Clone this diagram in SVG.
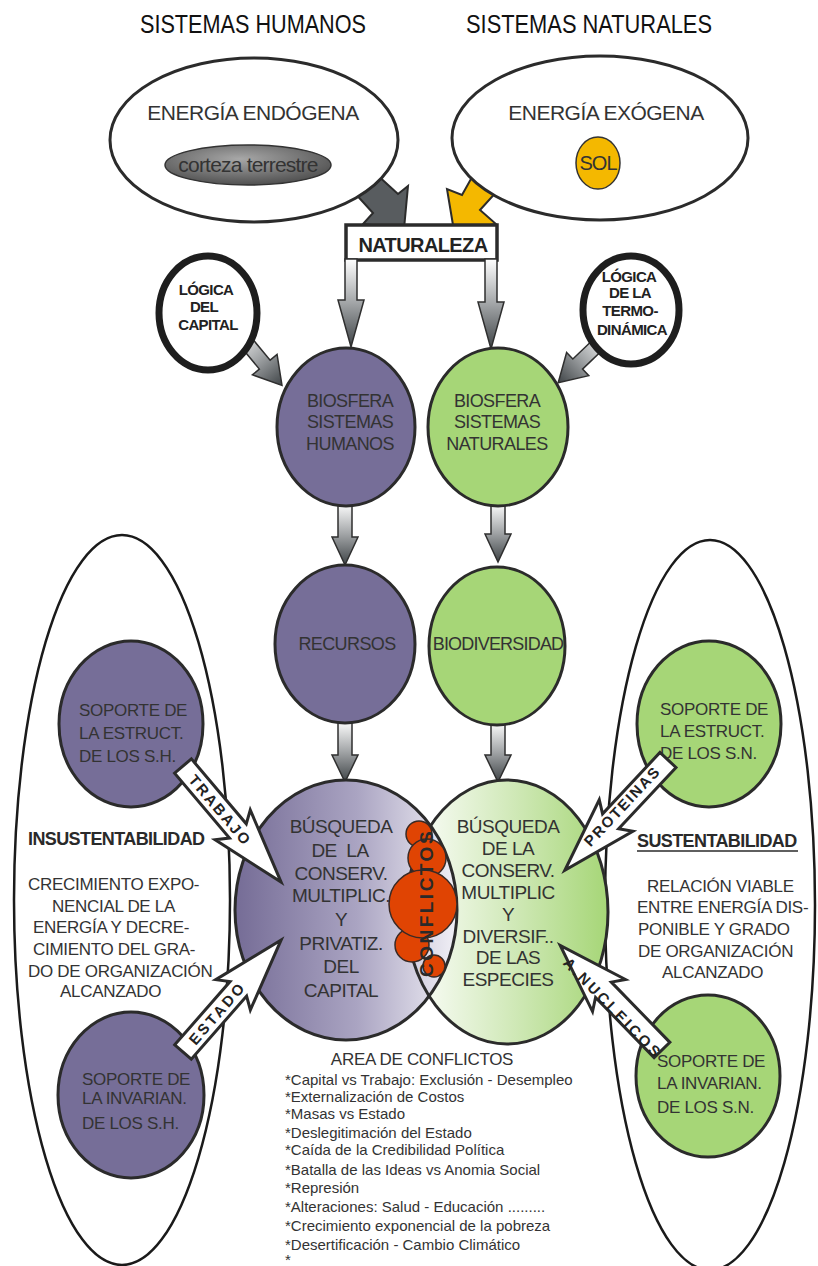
<svg xmlns="http://www.w3.org/2000/svg" width="818" height="1266" viewBox="0 0 818 1266">
<defs>
<style>
text{font-family:"Liberation Sans",Arial,sans-serif;fill:#333}
.title{fill:#111;font-size:25px}
.bold{font-weight:bold}
.ln{stroke:#2b2b2b;stroke-width:3}
.purple{fill:#766e98}
.green{fill:#a6d677}
.garrow{fill:url(#gArrow);stroke:#2f2f2f;stroke-width:1.5}
.warrow{fill:#fff;stroke:#2b2b2b;stroke-width:3;stroke-linejoin:miter}
.m{text-anchor:middle}
.n17{font-size:17px;letter-spacing:-0.3px}
.n18{font-size:18px;letter-spacing:-0.6px}
.n19{font-size:19px;letter-spacing:-0.5px}
.lab{font-size:15px;font-weight:bold;fill:#222}
.item{font-size:15px}
.bub{fill:#e04403;stroke:#3a2a25;stroke-width:1.5}
</style>
<linearGradient id="gArrow" x1="0" y1="0" x2="0" y2="1">
<stop offset="0" stop-color="#ffffff"/>
<stop offset="0.5" stop-color="#a2a5a7"/>
<stop offset="1" stop-color="#3f4447"/>
</linearGradient>
<radialGradient id="gCorteza" cx="0.45" cy="0.35" r="0.7">
<stop offset="0" stop-color="#a8a8a8"/>
<stop offset="1" stop-color="#4a4a4a"/>
</radialGradient>
<linearGradient id="gPurple" x1="0" y1="0" x2="1" y2="0">
<stop offset="0" stop-color="#756c96"/>
<stop offset="0.55" stop-color="#aaa4c2"/>
<stop offset="1" stop-color="#f1f0f6"/>
</linearGradient>
<linearGradient id="gGreen" x1="0" y1="0" x2="1" y2="0">
<stop offset="0" stop-color="#ffffff"/>
<stop offset="0.5" stop-color="#d3eabc"/>
<stop offset="1" stop-color="#a6d677"/>
</linearGradient>
</defs>

<!-- titles -->
<text class="title" x="140" y="33" textLength="226" lengthAdjust="spacingAndGlyphs">SISTEMAS HUMANOS</text>
<text class="title" x="466" y="33" textLength="246" lengthAdjust="spacingAndGlyphs">SISTEMAS NATURALES</text>

<!-- big side ellipses -->
<g id="zona-insustentable">
<ellipse cx="122" cy="900" rx="108" ry="365" fill="#fff" stroke="#1a1a1a" stroke-width="2.5"/>
<text class="bold" x="28" y="845" style="font-size:18px;letter-spacing:-0.6px;fill:#2a2a2a">INSUSTENTABILIDAD</text>
<text class="n17" x="28" y="890">CRECIMIENTO EXPO-</text>
<text class="n17" x="52" y="912">NENCIAL DE LA</text>
<text class="n17" x="33" y="933">ENERGÍA Y DECRE-</text>
<text class="n17" x="33" y="955">CIMIENTO DEL GRA-</text>
<text class="n17" x="28" y="977">DO DE ORGANIZACIÓN</text>
<text class="n17" x="60" y="997">ALCANZADO</text>
</g>
<g id="zona-sustentable">
<ellipse cx="710" cy="905" rx="105" ry="365" fill="#fff" stroke="#1a1a1a" stroke-width="2.5"/>
<text class="bold" x="637" y="847" style="font-size:18px;letter-spacing:-0.6px;fill:#2a2a2a">SUSTENTABILIDAD</text>
<line x1="637" y1="851" x2="798" y2="851" stroke="#2a2a2a" stroke-width="1.6"/>
<text class="n17" x="647" y="892">RELACIÓN VIABLE</text>
<text class="n17" x="637" y="913">ENTRE ENERGÍA DIS-</text>
<text class="n17" x="638" y="935">PONIBLE Y GRADO</text>
<text class="n17" x="638" y="957">DE ORGANIZACIÓN</text>
<text class="n17" x="662" y="978">ALCANZADO</text>
</g>

<!-- connectors (under nodes) -->
<g id="connectors-under">
<polygon points="375,173 398,194 408,186 404,229 363,224 373,213 353,191" fill="#585c5f" stroke="#2b2b2b" stroke-width="2" stroke-linejoin="miter"/>
<polygon points="476,170 462,195 447,189 454,231 496,224 480,210 500,188" fill="#f4b800" stroke="#2b2b2b" stroke-width="2" stroke-linejoin="miter"/>
<path class="garrow" transform="translate(236,330) rotate(-39.7)" d="M-7,0 H7 V45 H16 L0,72 L-16,45 H-7 Z"/>
<path class="garrow" transform="translate(608,335) rotate(46.2)" d="M-7,0 H7 V42 H16 L0,69 L-16,42 H-7 Z"/>
</g>

<!-- top energy nodes -->
<g id="energia-endogena">
<ellipse cx="254" cy="140" rx="144" ry="82" fill="#fff" class="ln"/>
<text class="m" x="253" y="120" style="font-size:21px;letter-spacing:-0.5px">ENERGÍA ENDÓGENA</text>
<ellipse cx="248" cy="165" rx="83" ry="20" fill="url(#gCorteza)" stroke="#333" stroke-width="1.5"/>
<text class="m" x="248" y="172" style="font-size:21px;letter-spacing:-0.8px">corteza terrestre</text>
</g>
<g id="energia-exogena">
<ellipse cx="600" cy="138" rx="148" ry="82" fill="#fff" class="ln"/>
<text class="m" x="606" y="120" style="font-size:21px;letter-spacing:-0.5px">ENERGÍA EXÓGENA</text>
<ellipse cx="598" cy="163" rx="22" ry="26" fill="#f4b800" stroke="#333" stroke-width="1.5"/>
<text class="m" x="598" y="170" style="font-size:20px;letter-spacing:-1px">SOL</text>
</g>

<g id="naturaleza">
<rect x="346" y="225" width="151" height="35" fill="#fff" stroke="#2b2b2b" stroke-width="3.5"/>
<text class="m bold" x="423" y="252" style="font-size:20px;letter-spacing:-0.6px;fill:#222">NATURALEZA</text>
</g>

<g id="connectors">
<path class="garrow" transform="translate(351,259)" d="M-6,0 H6 V41 H13 L0,88 L-13,41 H-6 Z"/>
<path class="garrow" transform="translate(491,259)" d="M-6,0 H6 V43 H13 L0,90 L-13,43 H-6 Z"/>
<path class="garrow" transform="translate(345,503)" d="M-7,0 H7 V34 H13 L0,62 L-13,34 H-7 Z"/>
<path class="garrow" transform="translate(498,503)" d="M-7,0 H7 V31 H13 L0,59 L-13,31 H-7 Z"/>
<path class="garrow" transform="translate(345,721)" d="M-7,0 H7 V34 H13 L0,61 L-13,34 H-7 Z"/>
<path class="garrow" transform="translate(498,722)" d="M-7,0 H7 V33 H13 L0,60 L-13,33 H-7 Z"/>
</g>

<g id="logica-capital">
<ellipse cx="208" cy="313" rx="49" ry="57" fill="#fff" stroke="#1e1e1e" stroke-width="7"/>
<text class="m bold" x="206" y="295" style="font-size:15px;letter-spacing:-0.6px;fill:#222">LÓGICA</text>
<text class="m bold" x="204" y="312" style="font-size:15px;letter-spacing:-0.6px;fill:#222">DEL</text>
<text class="m bold" x="208" y="330" style="font-size:15px;letter-spacing:-0.6px;fill:#222">CAPITAL</text>
</g>
<g id="logica-termodinamica">
<ellipse cx="631" cy="310" rx="48" ry="54" fill="#fff" stroke="#1e1e1e" stroke-width="7"/>
<text class="m bold" x="629" y="282" style="font-size:15px;letter-spacing:-0.6px;fill:#222">LÓGICA</text>
<text class="m bold" x="630" y="298" style="font-size:15px;letter-spacing:-0.6px;fill:#222">DE LA</text>
<text class="m bold" x="630" y="316" style="font-size:15px;letter-spacing:-0.6px;fill:#222">TERMO-</text>
<text class="m bold" x="632" y="335" style="font-size:15px;letter-spacing:-0.6px;fill:#222">DINÁMICA</text>
</g>

<g id="biosfera-humanos">
<ellipse cx="346" cy="427" rx="69" ry="79" class="purple ln"/>
<text class="m n18" x="350" y="407">BIOSFERA</text>
<text class="m n18" x="350" y="428">SISTEMAS</text>
<text class="m n18" x="350" y="450">HUMANOS</text>
</g>
<g id="biosfera-naturales">
<ellipse cx="498" cy="427" rx="70" ry="79" class="green ln"/>
<text class="m n18" x="497" y="407">BIOSFERA</text>
<text class="m n18" x="497" y="428">SISTEMAS</text>
<text class="m n18" x="497" y="450">NATURALES</text>
</g>

<g id="recursos">
<ellipse cx="345" cy="644" rx="70" ry="79" class="purple ln"/>
<text class="m n18" x="347" y="650">RECURSOS</text>
</g>
<g id="biodiversidad">
<ellipse cx="497" cy="646" rx="68" ry="79" class="green ln"/>
<text class="m" x="498" y="650" style="font-size:18px;letter-spacing:-0.8px">BIODIVERSIDAD</text>
</g>

<g id="soporte-estruct-sh">
<ellipse cx="131" cy="724" rx="72" ry="83" class="purple ln"/>
<text class="n17" x="79" y="716">SOPORTE DE</text>
<text class="n17" x="79" y="739">LA ESTRUCT.</text>
<text class="n17" x="79" y="762">DE LOS S.H.</text>
</g>
<g id="soporte-invarian-sh">
<ellipse cx="131" cy="1095" rx="73" ry="83" class="purple ln"/>
<text class="n17" x="82" y="1085">SOPORTE DE</text>
<text class="n17" x="82" y="1104">LA INVARIAN.</text>
<text class="n17" x="82" y="1129">DE LOS S.H.</text>
</g>
<g id="soporte-estruct-sn">
<ellipse cx="709" cy="724" rx="72" ry="83" class="green ln"/>
<text class="n17" x="660" y="715">SOPORTE DE</text>
<text class="n17" x="660" y="737">LA ESTRUCT.</text>
<text class="n17" x="660" y="759">DE LOS S.N.</text>
</g>
<g id="soporte-invarian-sn">
<ellipse cx="708" cy="1076" rx="72" ry="81" class="green ln"/>
<text class="n17" x="657" y="1067">SOPORTE DE</text>
<text class="n17" x="657" y="1089">LA INVARIAN.</text>
<text class="n17" x="657" y="1113">DE LOS S.N.</text>
</g>

<g id="busqueda">
<ellipse cx="507" cy="912" rx="101" ry="132" fill="url(#gGreen)"/>
<ellipse cx="346" cy="910" rx="111" ry="130" fill="url(#gPurple)"/>
<ellipse cx="507" cy="912" rx="101" ry="132" fill="none" class="ln"/>
<ellipse cx="346" cy="910" rx="111" ry="130" fill="none" class="ln"/>
<text class="m n19" x="341" y="833">BÚSQUEDA</text>
<text class="m n19" x="340" y="857" style="white-space:pre">DE  LA</text>
<text class="m n19" x="341" y="880">CONSERV.</text>
<text class="m n19" x="341" y="902">MULTIPLIC.</text>
<text class="m n19" x="341" y="926">Y</text>
<text class="m n19" x="341" y="950">PRIVATIZ.</text>
<text class="m n19" x="341" y="973">DEL</text>
<text class="m n19" x="341" y="997">CAPITAL</text>
<text class="m n19" x="508" y="833">BÚSQUEDA</text>
<text class="m n19" x="508" y="855">DE LA</text>
<text class="m n19" x="508" y="877">CONSERV.</text>
<text class="m n19" x="508" y="899">MULTIPLIC</text>
<text class="m n19" x="508" y="921">Y</text>
<text class="m n19" x="508" y="943">DIVERSIF..</text>
<text class="m n19" x="508" y="964">DE LAS</text>
<text class="m n19" x="508" y="986">ESPECIES</text>
</g>

<g id="conflictos">
<circle class="bub" cx="419" cy="834" r="13"/>
<circle class="bub" cx="427" cy="858" r="19"/>
<circle class="bub" cx="412" cy="945" r="17"/>
<circle class="bub" cx="434" cy="966" r="11"/>
<circle class="bub" cx="423" cy="904" r="34"/>
<text class="m bold" transform="translate(433,903) rotate(-90)" style="font-size:19px;letter-spacing:2.5px;fill:#2a2a2a">CONFLICTOS</text>
</g>

<g id="connectors-labels">
<path class="warrow" transform="translate(183,766) rotate(49.8)" d="M0,-11 L85,-11 L77,-23 L152,0 L77,23 L85,11 L0,11 Z"/>
<text class="m lab" transform="translate(183,766) rotate(49.8)" x="58" y="5.5" style="letter-spacing:2.2px">TRABAJO</text>
<path class="warrow" transform="translate(183,1052) rotate(-48.8)" d="M0,-11 L84,-11 L76,-23 L149,0 L76,23 L84,11 L0,11 Z"/>
<text class="m lab" transform="translate(183,1052) rotate(-48.8)" x="52" y="5.5" style="letter-spacing:2.8px">ESTADO</text>
<path class="warrow" transform="translate(668,760) rotate(133.1)" d="M0,-11 L84,-11 L76,-23 L151,0 L76,23 L84,11 L0,11 Z"/>
<text class="m lab" transform="translate(622,806) rotate(-46.9)" x="0" y="5.5" style="letter-spacing:1.8px">PROTEINAS</text>
<path class="warrow" transform="translate(662,1050) rotate(-134.2)" d="M0,-11 L84,-11 L76,-23 L146,0 L76,23 L84,11 L0,11 Z"/>
<text class="m lab" transform="translate(613,1008) rotate(45.8)" x="0" y="5.5" style="letter-spacing:2.8px">A.NUCLEICOS</text>
</g>

<g id="area-conflictos">
<text class="m" x="422" y="1065" style="font-size:17px;letter-spacing:-0.3px">AREA DE CONFLICTOS</text>
<text class="item" x="285" y="1085">*Capital vs Trabajo: Exclusión - Desempleo</text>
<text class="item" x="285" y="1102">*Externalización de Costos</text>
<text class="item" x="285" y="1119">*Masas vs Estado</text>
<text class="item" x="285" y="1138">*Deslegitimación del Estado</text>
<text class="item" x="285" y="1155">*Caída de la Credibilidad Política</text>
<text class="item" x="285" y="1175">*Batalla de las Ideas vs Anomia Social</text>
<text class="item" x="285" y="1193">*Represión</text>
<text class="item" x="285" y="1212">*Alteraciones: Salud - Educación .........</text>
<text class="item" x="285" y="1231">*Crecimiento exponencial de la pobreza</text>
<text class="item" x="285" y="1250">*Desertificación - Cambio Climático</text>
<text class="item" x="285" y="1265">*</text>
</g>
</svg>
